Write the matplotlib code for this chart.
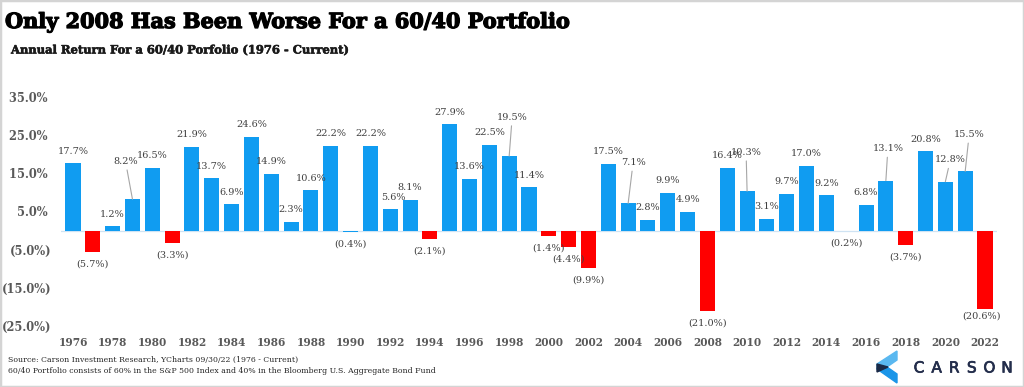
import matplotlib
matplotlib.use("Agg")
import matplotlib.pyplot as plt
import matplotlib.patheffects as pe
from matplotlib.patches import Polygon, Rectangle

years = list(range(1976, 2023))
returns = [17.7, -5.7, 1.2, 8.2, 16.5, -3.3, 21.9, 13.7, 6.9, 24.6,
           14.9, 2.3, 10.6, 22.2, -0.4, 22.2, 5.6, 8.1, -2.1, 27.9,
           13.6, 22.5, 19.5, 11.4, -1.4, -4.4, -9.9, 17.5, 7.1, 2.8,
           9.9, 4.9, -21.0, 16.4, 10.3, 3.1, 9.7, 17.0, 9.2, -0.2,
           6.8, 13.1, -3.7, 20.8, 12.8, 15.5, -20.6]
yticks = [35, 25, 15, 5, -5, -15, -25]
xtick_years = list(range(1976, 2023, 2))

title = "Only 2008 Has Been Worse For a 60/40 Portfolio"
subtitle = "Annual Return For a 60/40 Porfolio (1976 - Current)"
source1 = "Source: Carson Investment Research, YCharts 09/30/22 (1976 - Current)"
source2 = ("60/40 Portfolio consists of 60% in the S&P 500 Index and 40% "
           "in the Bloomberg U.S. Aggregate Bond Fund")

# label placement tweaks (pixel offsets of label centre from bar end)
label_offsets = {1979: (-7, 38), 1998: (3, 39), 2004: (5, 41), 2010: (-1, 39),
                 2017: (2, 32), 2020: (5, 22), 2021: (4, 37), 2022: (-4, -7),
                 1992: (3, 12)}
leader_years = {1979, 1998, 2004, 2010, 2017, 2020, 2021}

BLUE = "#109cf1"
RED = "#ff0000"
W, H = 1024, 387

fig = plt.figure(figsize=(W / 100, H / 100), dpi=100)
fig.patch.set_facecolor("white")

left_px, right_px = 61.1, 996.9
top_px, bot_px = 97, 326
ax = fig.add_axes([left_px / W, 1 - bot_px / H, (right_px - left_px) / W,
                   (bot_px - top_px) / H])
ax.set_facecolor("none")

xs = list(range(len(years)))
colors = [RED if v < -1 else BLUE for v in returns]
ax.bar(xs, returns, width=0.76, color=colors, zorder=2)
ax.axhline(0, color="#cfe3f3", lw=0.9, zorder=1)

ax.set_xlim(-0.6, len(years) - 0.4)
ax.set_ylim(-25, 35)
for s in ax.spines.values():
    s.set_visible(False)

def fmt(v):
    return f"({abs(v):.1f}%)" if v < 0 else f"{v:.1f}% "

ax.set_yticks(yticks)
ax.set_yticklabels([fmt(v) for v in yticks], fontfamily="DejaVu Serif",
                   fontweight="bold", fontsize=8.3, color="#595959")
ax.set_xticks([years.index(y) for y in xtick_years])
ax.set_xticklabels([str(y) for y in xtick_years], fontfamily="DejaVu Serif",
                   fontweight="bold", fontsize=7.6, color="#595959")
ax.tick_params(axis="both", length=0)
ax.tick_params(axis="x", pad=8)
ax.tick_params(axis="y", pad=7)

for x, y, v in zip(xs, years, returns):
    txt = f"({abs(v):.1f}%)" if v < 0 else f"{v:.1f}%"
    dx, dy = label_offsets.get(y, (0, 12 if v >= 0 else -12))
    kw = {}
    if y in leader_years:
        kw["arrowprops"] = dict(arrowstyle="-", color="#a6a6a6", lw=0.8,
                                shrinkA=1, shrinkB=0)
    ax.annotate(txt, xy=(x, v), xytext=(dx, dy), textcoords="offset pixels",
                ha="center", va="center", fontsize=7, color="#404040",
                fontfamily="DejaVu Serif", zorder=3, **kw)

fig.text(5 / W, 1 - 22 / H, title, fontsize=15, fontweight="bold",
         fontfamily="DejaVu Serif", color="black", va="center", ha="left",
         path_effects=[pe.withStroke(linewidth=0.9, foreground="black")])
fig.text(11 / W, 1 - 50 / H, subtitle, fontsize=8.3, fontweight="bold",
         fontfamily="DejaVu Serif", color="#1a1a1a", va="center", ha="left",
         path_effects=[pe.withStroke(linewidth=0.4, foreground="#1a1a1a")])
fig.text(8 / W, 1 - 360 / H, source1, fontsize=5.6, fontfamily="DejaVu Serif",
         color="#262626", va="center", ha="left")
fig.text(8 / W, 1 - 371 / H, source2, fontsize=5.6, fontfamily="DejaVu Serif",
         color="#262626", va="center", ha="left")

# logo
def fp(pts):
    return [(x / W, 1 - y / H) for x, y in pts]

fig.add_artist(Polygon(fp([(897, 351), (897, 360), (887, 367), (877, 366),
                           (877, 364)]), closed=True, color="#5ab8f0",
                       transform=fig.transFigure))
fig.add_artist(Polygon(fp([(887, 367), (897, 374), (897, 383), (877, 369),
                           (877, 368)]), closed=True, color="#1a95e8",
                       transform=fig.transFigure))
fig.add_artist(Polygon(fp([(877, 364), (888, 367), (877, 372)]), closed=True,
                       color="#1b2a47", transform=fig.transFigure))
for i, ch in enumerate("CARSON"):
    fig.text((919 + i * 17.6) / W, 1 - 368 / H, ch, fontsize=11,
             fontfamily="DejaVu Sans", fontweight="normal", color="#232d4b",
             ha="center", va="center",
             path_effects=[pe.withStroke(linewidth=0.5, foreground="#232d4b")])

fig.add_artist(Rectangle((0, 0), 1, 1, transform=fig.transFigure, fill=False,
                         edgecolor="#d4d4d4", lw=2.5))

fig.savefig("out.png", dpi=100, facecolor="white")
